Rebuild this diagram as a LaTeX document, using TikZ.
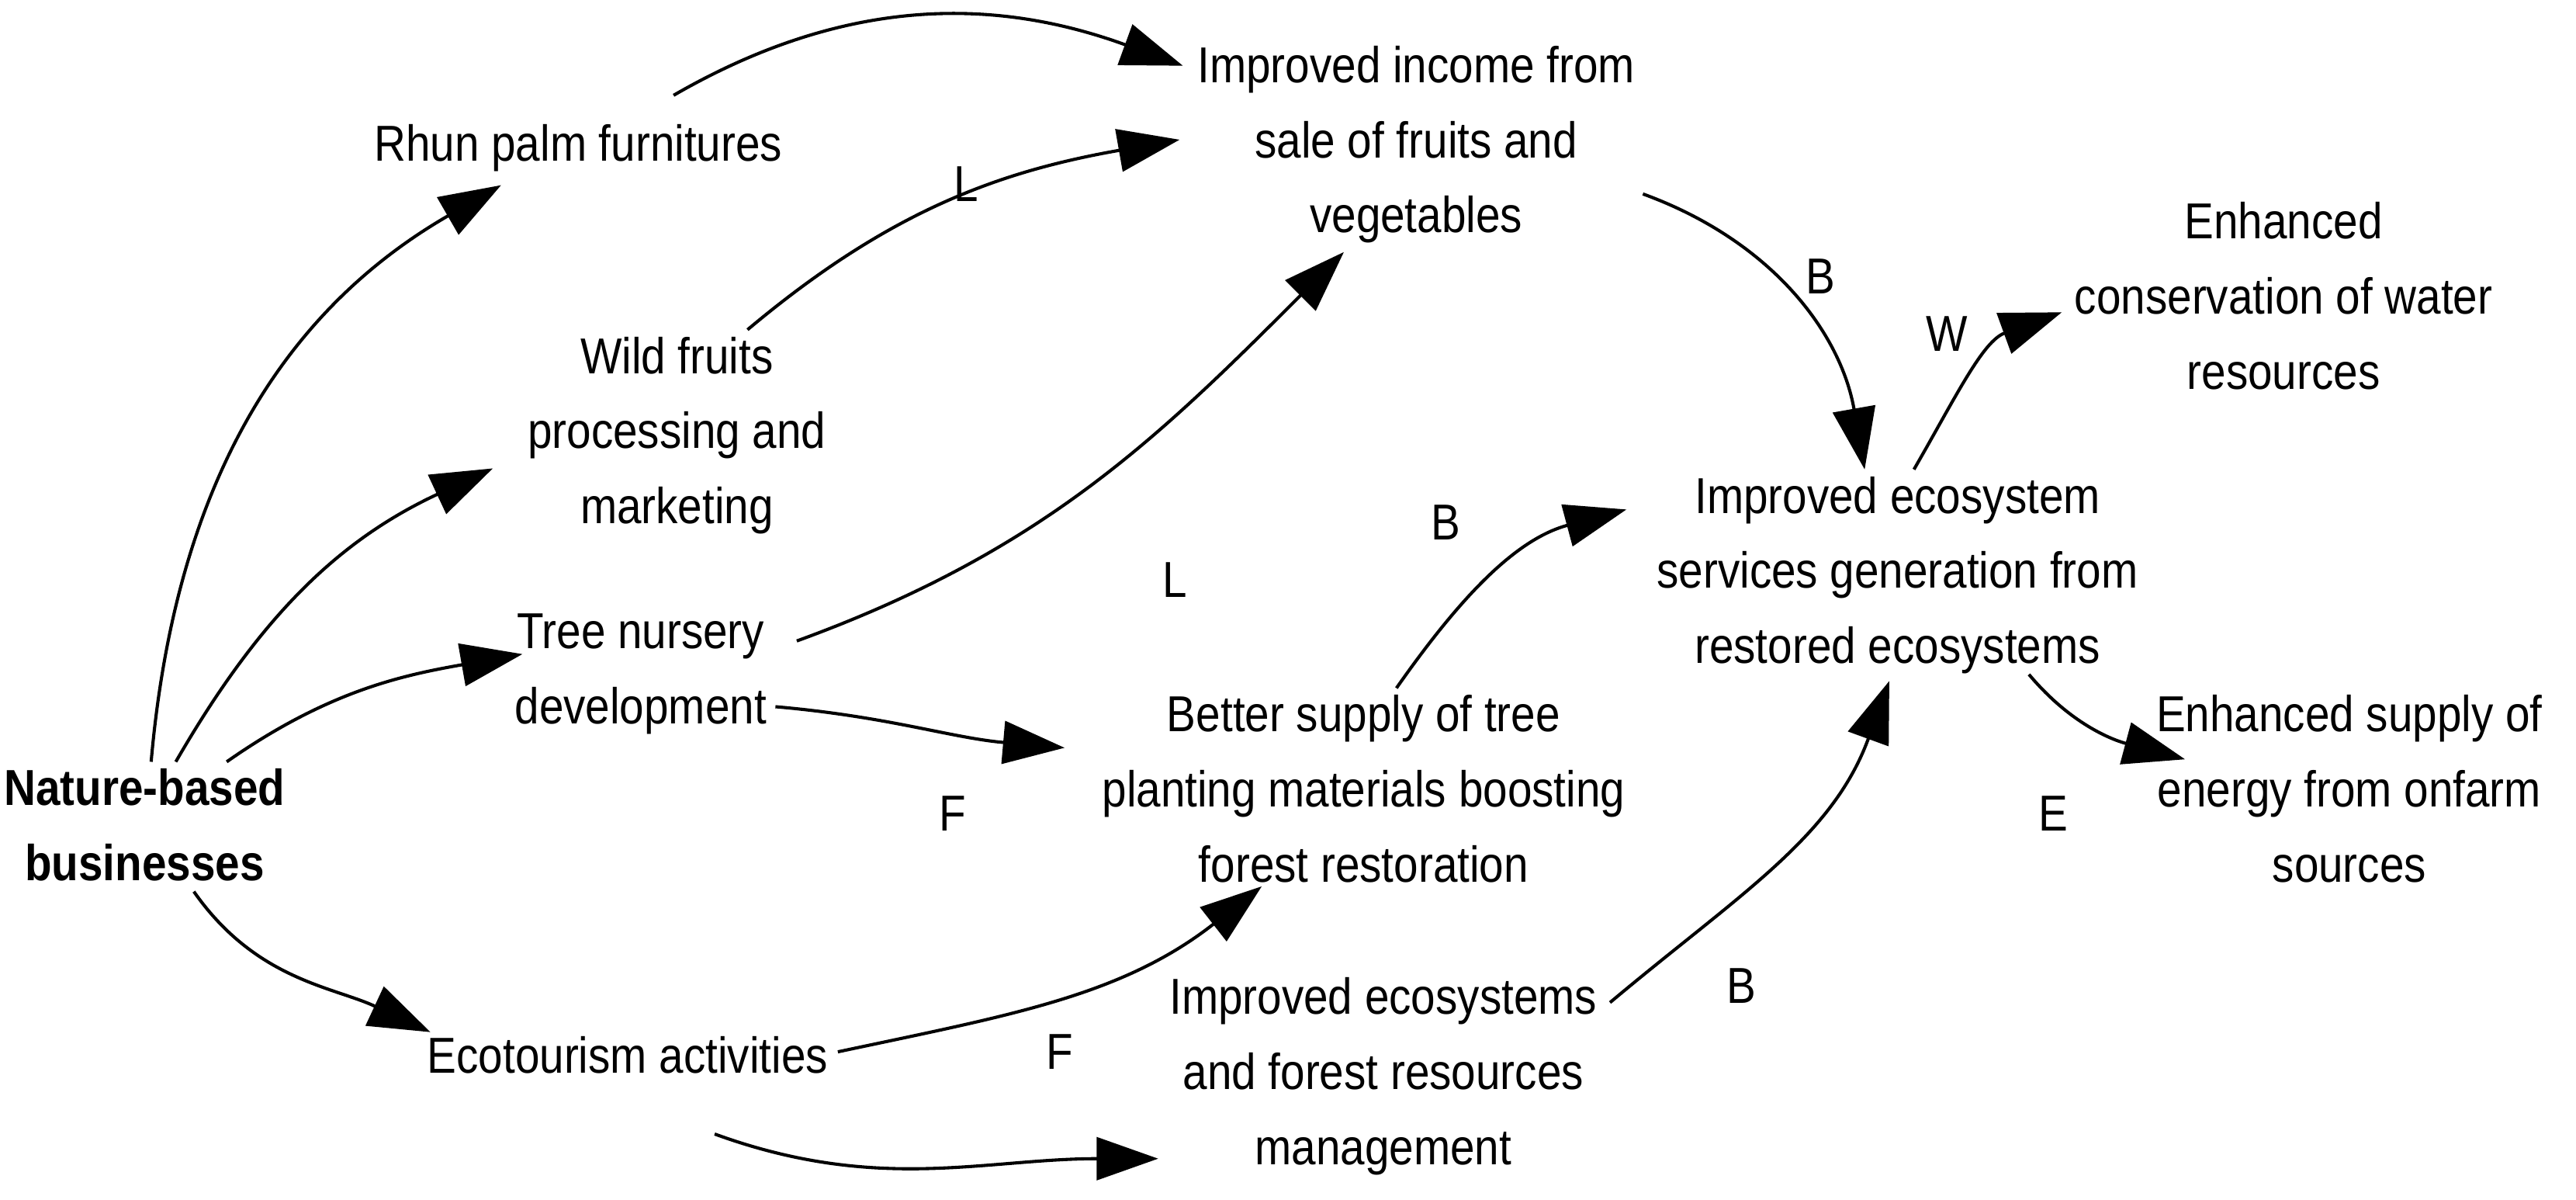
\documentclass[tikz,border=0pt]{standalone}
\usepackage{fontspec}
\setmainfont{Liberation Sans}[FakeStretch=0.87]
\usetikzlibrary{arrows.meta,calc}
\begin{document}
\begin{tikzpicture}[x=0.02cm,y=-0.02cm,
  every node/.style={inner sep=0pt,align=center,font=\fontsize{17.5}{26}\selectfont},
  arr/.style={line width=1.1pt,-{Triangle[length=0.75cm,width=0.52cm]}}]
\useasboundingbox (0,0) rectangle (1568,730);
\node (nat) at (88,502) {\bfseries Nature-based\\\bfseries businesses};
\node (rhun) at (352,90) {Rhun palm furnitures};
\node (inc) at (862,88) {Improved income from\\sale of fruits and\\vegetables};
\node (wild) at (412,265) {Wild fruits\\processing and\\marketing};
\node (tree) at (390,410) {Tree nursery\\development};
\node (better) at (830,480) {Better supply of tree\\planting materials boosting\\forest restoration};
\node (svc) at (1155,350) {Improved ecosystem\\services generation from\\restored ecosystems};
\node (water) at (1390,180) {Enhanced\\conservation of water\\resources};
\node (energy) at (1430,480) {Enhanced supply of\\energy from onfarm\\sources};
\node (eco) at (382,642) {Ecotourism activities};
\node (ime) at (842,655) {Improved ecosystems\\and forest resources\\management};
\node (l1) at (588,112) {L};
\node (b1) at (1108,168) {B};
\node (w1) at (1185,203) {W};
\node (l2) at (715,353) {L};
\node (b2) at (880,318) {B};
\node (f1) at (580,495) {F};
\node (e1) at (1250,495) {E};
\node (b3) at (1060,600) {B};
\node (f2) at (645,640) {F};
\draw[arr] ($(nat.north)+(4,-4)$) to[out=85,in=210] ($(rhun.south)+(-47,8)$);
\draw[arr] ($(nat.north)+(19,-4)$) to[out=60,in=205] ($(wild.center)+(-112,20)$);
\draw[arr] ($(nat.north)+(50,-4)$) to[out=35,in=190] ($(tree.center)+(-72,-12)$);
\draw[arr] ($(nat.south)+(30,6)$) to[out=-55,in=155] ($(eco.center)+(-120,-14)$);
\draw[arr] ($(rhun.center)+(58,-32)$) to[out=30,in=160] ($(inc.center)+(-142,-48)$);
\draw[arr] ($(wild.north)+(43,-4)$) to[out=40,in=190] ($(inc.center)+(-144,-3)$);
\draw[arr] ($(tree.center)+(95,-20)$) to[out=20,in=225] ($(inc.south)+(-44,5)$);
\draw[arr] ($(tree.center)+(82,20)$) to[out=-5,in=175] ($(better.center)+(-182,-25)$);
\draw[arr] ($(eco.center)+(128,-2)$) to[out=12,in=218] ($(better.south)+(-62,2)$);
\draw[arr] ($(eco.center)+(53,48)$) to[out=-20,in=180] ($(ime.center)+(-137,50)$);
\draw[arr] ($(inc.center)+(138,30)$) to[out=-20,in=100] ($(svc.north)+(-20,-4)$);
\draw[arr] ($(better.north)+(20,-4)$) to[out=55,in=195] ($(svc.center)+(-165,-40)$);
\draw[arr] ($(ime.center)+(138,-45)$) to[out=40,in=250] ($(svc.south)+(-5,4)$);
\draw[arr] ($(svc.north)+(10,-4)$) to[out=60,in=200] ($(water.center)+(-135,10)$);
\draw[arr] ($(svc.south)+(80,0)$) to[out=-50,in=165] ($(energy.center)+(-100,-18)$);
\end{tikzpicture}
\end{document}
